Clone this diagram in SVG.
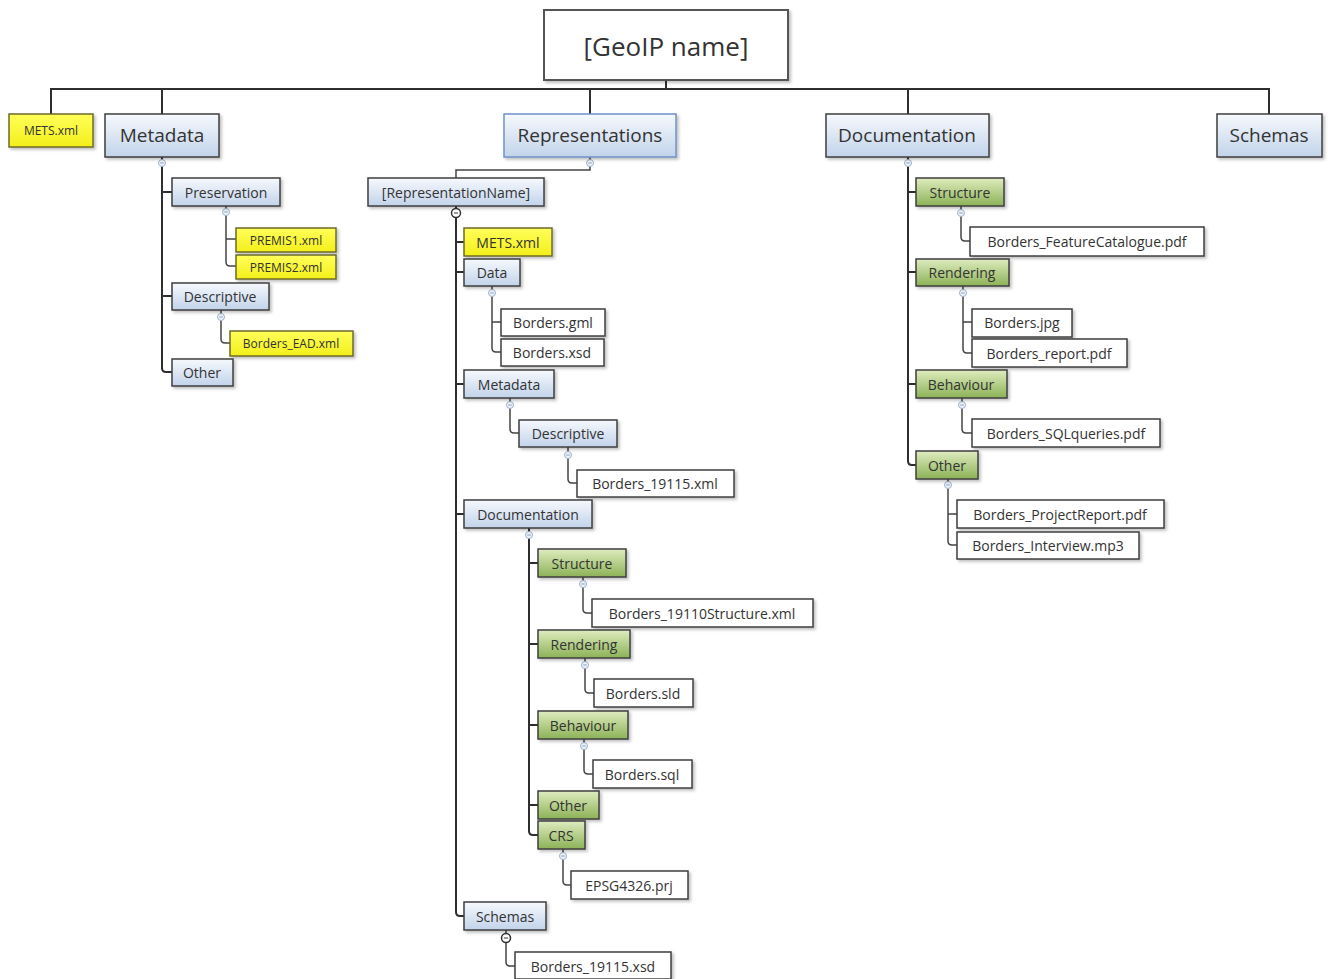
<svg xmlns="http://www.w3.org/2000/svg" width="1328" height="979" viewBox="0 0 1328 979">
<defs>
<linearGradient id="gBlue" x1="0" y1="0" x2="0" y2="1"><stop offset="0" stop-color="#f6f9fd"/><stop offset="1" stop-color="#c2d3ea"/></linearGradient>
<linearGradient id="gGreen" x1="0" y1="0" x2="0" y2="1"><stop offset="0" stop-color="#dfecbf"/><stop offset="1" stop-color="#8cb257"/></linearGradient>
<linearGradient id="gYellow" x1="0" y1="0" x2="0" y2="1"><stop offset="0" stop-color="#ffff5a"/><stop offset="1" stop-color="#f3ef1a"/></linearGradient>
<filter id="sh" x="-10%" y="-20%" width="130%" height="160%"><feDropShadow dx="2" dy="2" stdDeviation="1.5" flood-color="#000" flood-opacity="0.25"/></filter>
<g id="col"><circle r="3.5" fill="#eef3f9" stroke="#9db2cc" stroke-width="1"/><line x1="-1.8" y1="0" x2="1.8" y2="0" stroke="#8aa0bc" stroke-width="1"/></g>
<g id="ring"><circle r="4.5" fill="#ffffff" stroke="#333" stroke-width="1.5"/><line x1="-2" y1="0" x2="2" y2="0" stroke="#333" stroke-width="1"/></g>
</defs>
<style>
rect{filter:url(#sh);}
.root{fill:#ffffff;stroke:#555;stroke-width:2;}
.blue{fill:url(#gBlue);stroke:#3f3f3f;stroke-width:1.5;}
.blueb{fill:url(#gBlue);stroke:#6f93c6;stroke-width:1.5;}
.green{fill:url(#gGreen);stroke:#3f3f3f;stroke-width:1.5;}
.yellow{fill:url(#gYellow);stroke:#6e6b2a;stroke-width:1.5;}
.file{fill:#ffffff;stroke:#3f3f3f;stroke-width:1.5;}
text{font-family:"Open Sans","Noto Sans","DejaVu Sans",sans-serif;fill:#333;text-anchor:middle;dominant-baseline:central;}
.t14{font-size:14px;}
.t12{font-size:12px;}
.t19{font-size:19px;}
.t26{font-size:26px;}
.c1{fill:none;stroke:#2e2e2e;stroke-width:2;}
.c2{fill:none;stroke:#444;stroke-width:1.5;}
</style>
<rect width="1328" height="979" fill="#ffffff" style="filter:none"/>

<g id="connectors">
<path class="c1" d="M666 80 V89 M51 114 V89 H1269 V114 M162 89 V114 M590 89 V114 M908 89 V114"/>
<path class="c1" d="M162 157 V368 Q162 372 166 372 H172 M162 192 H172 M162 296 H172"/>
<path class="c2" d="M226 206 V262 Q226 266 230 266 H236 M226 239 H236"/>
<path class="c2" d="M221 310 V339 Q221 343 225 343 H230"/>
<path class="c2" d="M590 157 V170 H456 V178"/>
<path class="c1" d="M456 206 V912 Q456 916 460 916 H464 M456 242 H464 M456 272 H464 M456 384 H464 M456 514 H464"/>
<path class="c2" d="M492 286 V348 Q492 352 496 352 H501 M492 322 H501"/>
<path class="c2" d="M510 398 V429 Q510 433 514 433 H519"/>
<path class="c2" d="M568 447 V479 Q568 483 572 483 H577"/>
<path class="c1" d="M529 528 V831 Q529 835 533 835 H538 M529 563 H538 M529 644 H538 M529 725 H538 M529 805 H538"/>
<path class="c2" d="M583 577 V609 Q583 613 587 613 H592"/>
<path class="c2" d="M585 658 V689 Q585 693 589 693 H594"/>
<path class="c2" d="M584 739 V770 Q584 774 588 774 H593"/>
<path class="c2" d="M563 849 V881 Q563 885 567 885 H571"/>
<path class="c2" d="M506 930 V962 Q506 966 510 966 H515"/>
<path class="c1" d="M908 157 V461 Q908 465 912 465 H916 M908 192 H916 M908 272 H916 M908 384 H916"/>
<path class="c2" d="M961 206 V237 Q961 241 965 241 H970"/>
<path class="c2" d="M963 286 V349 Q963 353 967 353 H972 M963 322 H972"/>
<path class="c2" d="M962 398 V429 Q962 433 966 433 H972"/>
<path class="c2" d="M948 479 V541 Q948 545 952 545 H957 M948 514 H957"/>
<use href="#col" x="162" y="163"/>
<use href="#col" x="226" y="212"/>
<use href="#col" x="221" y="317"/>
<use href="#col" x="590" y="163"/>
<use href="#ring" x="456" y="213"/>
<use href="#col" x="492" y="293"/>
<use href="#col" x="510" y="405"/>
<use href="#col" x="568" y="455"/>
<use href="#col" x="529" y="535"/>
<use href="#col" x="583" y="584"/>
<use href="#col" x="585" y="665"/>
<use href="#col" x="584" y="746"/>
<use href="#col" x="563" y="856"/>
<use href="#ring" x="506" y="938"/>
<use href="#col" x="908" y="163"/>
<use href="#col" x="961" y="213"/>
<use href="#col" x="963" y="293"/>
<use href="#col" x="962" y="405"/>
<use href="#col" x="948" y="485"/>
</g>

<g id="root"><rect class="root" x="544" y="10" width="244" height="70"/><text class="t26" x="666" y="46">[GeoIP name]</text></g>
<g id="mets-top"><rect class="yellow" x="9" y="114" width="84" height="33"/><text class="t12" x="51" y="130">METS.xml</text></g>
<g id="metadata"><rect class="blue" x="105" y="114" width="114" height="43"/><text class="t19" x="162" y="135">Metadata</text></g>
<g id="representations"><rect class="blueb" x="504" y="114" width="172" height="43"/><text class="t19" x="590" y="135">Representations</text></g>
<g id="documentation"><rect class="blue" x="826" y="114" width="163" height="43"/><text class="t19" x="907" y="135">Documentation</text></g>
<g id="schemas"><rect class="blue" x="1217" y="114" width="105" height="43"/><text class="t19" x="1269" y="135">Schemas</text></g>

<g id="md-preservation"><rect class="blue" x="172" y="178" width="108" height="28"/><text class="t14" x="226" y="192">Preservation</text></g>
<g id="md-premis1"><rect class="yellow" x="236" y="228" width="100" height="24"/><text class="t12" x="286" y="240">PREMIS1.xml</text></g>
<g id="md-premis2"><rect class="yellow" x="236" y="255" width="100" height="24"/><text class="t12" x="286" y="267">PREMIS2.xml</text></g>
<g id="md-descriptive"><rect class="blue" x="172" y="283" width="97" height="27"/><text class="t14" x="220" y="296">Descriptive</text></g>
<g id="md-ead"><rect class="yellow" x="230" y="331" width="123" height="25"/><text class="t12" x="291" y="343">Borders_EAD.xml</text></g>
<g id="md-other"><rect class="blue" x="172" y="359" width="61" height="27"/><text class="t14" x="202" y="372">Other</text></g>

<g id="rep-name"><rect class="blue" x="368" y="178" width="176" height="28"/><text class="t14" x="456" y="192">[RepresentationName]</text></g>
<g id="rep-mets"><rect class="yellow" x="464" y="228" width="88" height="28"/><text class="t14" x="508" y="242">METS.xml</text></g>
<g id="rep-data"><rect class="blue" x="464" y="259" width="56" height="27"/><text class="t14" x="492" y="272">Data</text></g>
<g id="rep-gml"><rect class="file" x="501" y="309" width="104" height="27"/><text class="t14" x="553" y="322">Borders.gml</text></g>
<g id="rep-xsd"><rect class="file" x="501" y="339" width="103" height="27"/><text class="t14" x="552" y="352">Borders.xsd</text></g>
<g id="rep-metadata"><rect class="blue" x="464" y="370" width="90" height="28"/><text class="t14" x="509" y="384">Metadata</text></g>
<g id="rep-descriptive"><rect class="blue" x="519" y="420" width="98" height="27"/><text class="t14" x="568" y="433">Descriptive</text></g>
<g id="rep-19115xml"><rect class="file" x="577" y="470" width="157" height="27"/><text class="t14" x="655" y="483">Borders_19115.xml</text></g>
<g id="rep-documentation"><rect class="blue" x="464" y="500" width="128" height="28"/><text class="t14" x="528" y="514">Documentation</text></g>
<g id="rep-structure"><rect class="green" x="538" y="549" width="88" height="28"/><text class="t14" x="582" y="563">Structure</text></g>
<g id="rep-19110"><rect class="file" x="592" y="599" width="221" height="28"/><text class="t14" x="702" y="613">Borders_19110Structure.xml</text></g>
<g id="rep-rendering"><rect class="green" x="538" y="630" width="92" height="28"/><text class="t14" x="584" y="644">Rendering</text></g>
<g id="rep-sld"><rect class="file" x="594" y="679" width="99" height="28"/><text class="t14" x="643" y="693">Borders.sld</text></g>
<g id="rep-behaviour"><rect class="green" x="538" y="711" width="90" height="28"/><text class="t14" x="583" y="725">Behaviour</text></g>
<g id="rep-sql"><rect class="file" x="593" y="760" width="99" height="28"/><text class="t14" x="642" y="774">Borders.sql</text></g>
<g id="rep-other"><rect class="green" x="538" y="791" width="61" height="28"/><text class="t14" x="568" y="805">Other</text></g>
<g id="rep-crs"><rect class="green" x="538" y="821" width="47" height="28"/><text class="t14" x="561" y="835">CRS</text></g>
<g id="rep-epsg"><rect class="file" x="571" y="871" width="117" height="28"/><text class="t14" x="629" y="885">EPSG4326.prj</text></g>
<g id="rep-schemas"><rect class="blue" x="464" y="902" width="82" height="28"/><text class="t14" x="505" y="916">Schemas</text></g>
<g id="rep-19115xsd"><rect class="file" x="515" y="952" width="156" height="27"/><text class="t14" x="593" y="966">Borders_19115.xsd</text></g>

<g id="doc-structure"><rect class="green" x="916" y="178" width="88" height="28"/><text class="t14" x="960" y="192">Structure</text></g>
<g id="doc-featurecat"><rect class="file" x="970" y="227" width="234" height="29"/><text class="t14" x="1087" y="241">Borders_FeatureCatalogue.pdf</text></g>
<g id="doc-rendering"><rect class="green" x="916" y="259" width="93" height="27"/><text class="t14" x="962" y="272">Rendering</text></g>
<g id="doc-jpg"><rect class="file" x="972" y="309" width="100" height="28"/><text class="t14" x="1022" y="322">Borders.jpg</text></g>
<g id="doc-report"><rect class="file" x="972" y="339" width="155" height="28"/><text class="t14" x="1049" y="353">Borders_report.pdf</text></g>
<g id="doc-behaviour"><rect class="green" x="916" y="370" width="91" height="28"/><text class="t14" x="961" y="384">Behaviour</text></g>
<g id="doc-sqlqueries"><rect class="file" x="972" y="419" width="188" height="28"/><text class="t14" x="1066" y="433">Borders_SQLqueries.pdf</text></g>
<g id="doc-other"><rect class="green" x="916" y="451" width="62" height="28"/><text class="t14" x="947" y="465">Other</text></g>
<g id="doc-projectreport"><rect class="file" x="957" y="500" width="207" height="28"/><text class="t14" x="1060" y="514">Borders_ProjectReport.pdf</text></g>
<g id="doc-interview"><rect class="file" x="957" y="532" width="182" height="27"/><text class="t14" x="1048" y="545">Borders_Interview.mp3</text></g>
</svg>
